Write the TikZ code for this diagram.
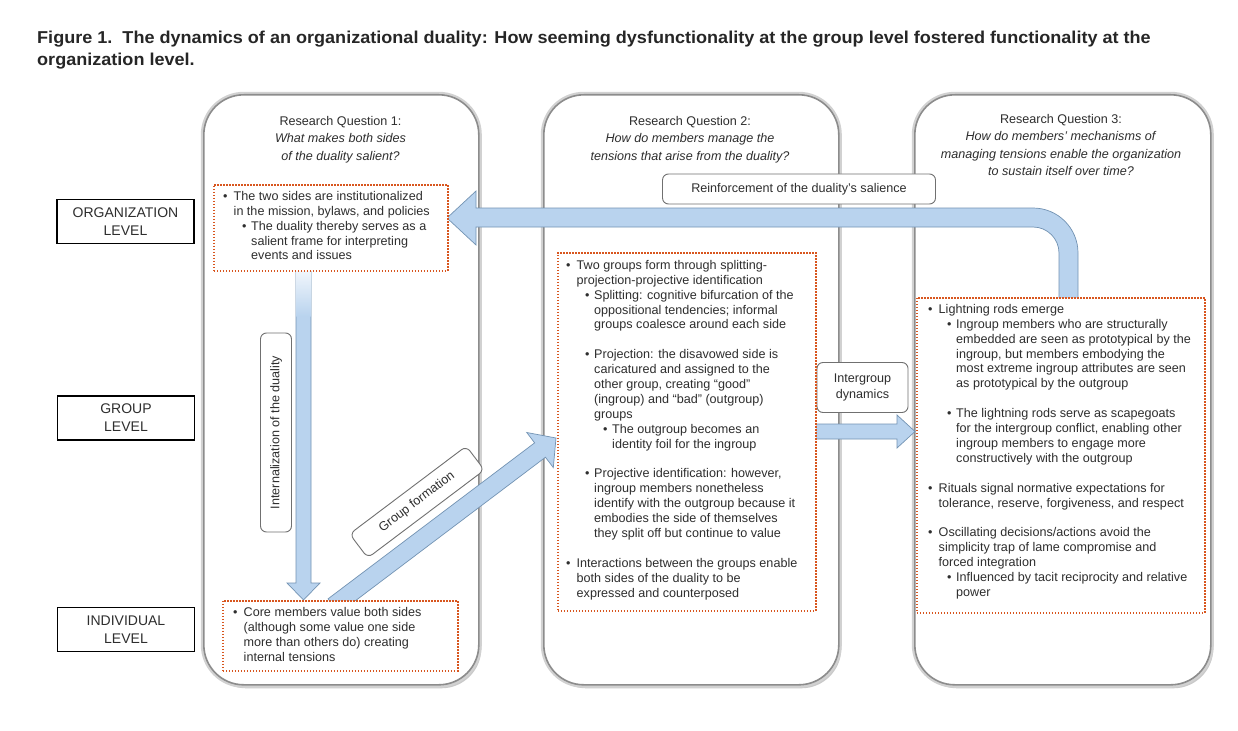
\documentclass[tikz,border=0pt]{standalone}
\usepackage{fontspec}
\setmainfont{Liberation Sans}
\newfontfamily\titlefont[FakeStretch=1.05]{Liberation Sans}
\usetikzlibrary{calc,shadows}
\definecolor{txt}{HTML}{2E2E2E}
\definecolor{dotc}{HTML}{D8561F}
\definecolor{arrfill}{HTML}{B9D3EE}
\definecolor{arrdraw}{HTML}{7393B3}
\definecolor{lblgray}{HTML}{707070}
\newcommand\BulA{\makebox[10.5pt][l]{\textbullet}}
\newcommand\ConA{\hspace*{10.5pt}}
\newcommand\BulB{\hspace*{19pt}\makebox[9pt][l]{\textbullet}}
\newcommand\ConB{\hspace*{28pt}}
\newcommand\BulC{\hspace*{37pt}\makebox[9pt][l]{\textbullet}}
\newcommand\ConC{\hspace*{46pt}}
\tikzset{
  panel/.style={rounded corners=40pt, fill=white, draw=black!45, line width=1.6pt,
    drop shadow={shadow xshift=2.5pt, shadow yshift=-3.5pt, opacity=0.35, fill=black!60},
    preaction={draw=black!18, line width=6pt}, inner sep=0, anchor=north west},
  dotbox/.style={draw=dotc, fill=white, line width=1.6pt, dash pattern=on 1.5pt off 1.5pt,
    inner sep=0, anchor=north west},
  body/.style={font=\fontsize{12.6}{14.9}\selectfont, text=txt, align=left, inner sep=0pt, anchor=north west},
  head/.style={font=\fontsize{12.6}{17.4}\selectfont, text=txt, align=center, inner sep=0pt, anchor=north},
  lvl/.style={draw=black, line width=1.1pt, minimum width=137pt, minimum height=44pt,
    font=\fontsize{14}{18}\selectfont, align=center, text=txt, inner sep=0},
  lbl/.style={draw=lblgray, line width=0.9pt, rounded corners=6pt, fill=white,
    font=\fontsize{12.6}{16}\selectfont, text=txt, align=center, inner sep=0},
  blockarrow/.style={fill=arrfill, draw=arrdraw, line width=0.7pt, line join=miter},
}
\begin{document}
\begin{tikzpicture}[x=1pt,y=-1pt]
\useasboundingbox[fill=white] (0,0) rectangle (1238,730);

% title
\node[anchor=north west, inner sep=0, align=left, text=black!85,
  font=\titlefont\bfseries\fontsize{17.2}{21.5}\selectfont] (title) at (37,31)
  {Figure 1.\ \ The dynamics of an organizational duality: How seeming dysfunctionality at the group level fostered functionality at the\\organization level.};

% level labels
\node[lvl] (org) at (125.5,221.5) {ORGANIZATION\\LEVEL};
\node[lvl] (grp) at (126,418) {GROUP\\LEVEL};
\node[lvl] (ind) at (126,629.5) {INDIVIDUAL\\LEVEL};

% panels
\node[panel, minimum width=275pt, minimum height=590pt] (p1) at (203,94) {};
\node[panel, minimum width=295pt, minimum height=590pt] (p2) at (543,94) {};
\node[panel, minimum width=296pt, minimum height=590pt] (p3) at (914,94) {};

% headers
\node[head] (h1) at (340.5,116) {Research Question 1:\\\textit{What makes both sides}\\\textit{of the duality salient?}};
\node[head] (h2) at (690,116) {Research Question 2:\\\textit{How do members manage the}\\\textit{tensions that arise from the duality?}};
\node[head] (h3) at (1061,114) {Research Question 3:\\\textit{How do members’ mechanisms of}\\\textit{managing tensions enable the organization}\\\textit{to sustain itself over time?}};

% reinforcement arrow
\draw[blockarrow] (1078,300) -- (1078,253) arc[start angle=0, end angle=-90, radius=45]
  -- (476,208) -- (476,191) -- (447,218) -- (476,245) -- (476,227) -- (1033,227)
  arc[start angle=-90, end angle=0, radius=26] -- (1059,300) -- cycle;

% internalization arrow
\coordinate (iS) at (303.5,266);
\coordinate (iT) at (303.5,600);
\draw[blockarrow] ($(iS)+(-7.5,0)$) -- ($(iT)+(-7.5,-17)$) -- ($(iT)+(-16.5,-17)$) -- (iT)
  -- ($(iT)+(16.5,-17)$) -- ($(iT)+(7.5,-17)$) -- ($(iS)+(7.5,0)$) -- cycle;
\shade[top color=white!85!arrfill, bottom color=arrfill] ($(iS)+(-7.1,2)$) rectangle ($(iS)+(7.1,50)$);

% group formation arrow
\coordinate (gT) at (556,438);
\coordinate (gS) at (333.5,606);
\coordinate (gH) at ($(gT)!20pt!(gS)$);
\draw[blockarrow] ($(gS)!9pt!90:(gT)$) -- ($(gH)!9pt!90:(gT)$) -- ($(gH)!22pt!90:(gT)$) -- (gT)
  -- ($(gH)!22pt!-90:(gT)$) -- ($(gH)!9pt!-90:(gT)$) -- ($(gS)!9pt!-90:(gT)$) -- cycle;

% intergroup arrow
\coordinate (nS) at (812,431.5);
\coordinate (nT) at (915,431.5);
\draw[blockarrow] ($(nS)+(0,-7.5)$) -- ($(nT)+(-18,-7.5)$) -- ($(nT)+(-18,-16.5)$) -- (nT)
  -- ($(nT)+(-18,16.5)$) -- ($(nT)+(-18,7.5)$) -- ($(nS)+(0,7.5)$) -- cycle;

% connector labels
\node[lbl, minimum width=273pt, minimum height=30pt] (lr) at (799,189) {Reinforcement of the duality’s salience};
\node[lbl, minimum width=91pt, minimum height=50pt] (li) at (862.5,387.5) {Intergroup\\dynamics};
\node[lbl, minimum width=199pt, minimum height=31pt, rotate=90] (lint) at (276,432.5) {Internalization of the duality};
\node[lbl, minimum width=146pt, minimum height=30pt, rotate=37] (lg) at (417,502) {Group formation};

% dotted boxes
\node[dotbox, minimum width=234pt, minimum height=86pt] (d1) at (213,184) {};
\node[dotbox, minimum width=235pt, minimum height=70pt] (d2) at (222,600) {};
\node[dotbox, minimum width=258pt, minimum height=358pt] (d3) at (557,252) {};
\node[dotbox, minimum width=288pt, minimum height=315pt] (d4) at (916,297) {};

% texts
\node[body] (t1) at (223,191) {\BulA The two sides are institutionalized\\
\ConA in the mission, bylaws, and policies\\
\BulB The duality thereby serves as a\\
\ConB salient frame for interpreting\\
\ConB events and issues};

\node[body] (t2) at (233,607) {\BulA Core members value both sides\\
\ConA (although some value one side\\
\ConA more than others do) creating\\
\ConA internal tensions};

\node[body] (t3) at (566,260) {\BulA Two groups form through splitting-\\
\ConA projection-projective identification\\
\BulB Splitting: cognitive bifurcation of the\\
\ConB oppositional tendencies; informal\\
\ConB groups coalesce around each side\\[14.9pt]
\BulB Projection: the disavowed side is\\
\ConB caricatured and assigned to the\\
\ConB other group, creating “good”\\
\ConB (ingroup) and “bad” (outgroup)\\
\ConB groups\\
\BulC The outgroup becomes an\\
\ConC identity foil for the ingroup\\[14.9pt]
\BulB Projective identification: however,\\
\ConB ingroup members nonetheless\\
\ConB identify with the outgroup because it\\
\ConB embodies the side of themselves\\
\ConB they split off but continue to value\\[14.9pt]
\BulA Interactions between the groups enable\\
\ConA both sides of the duality to be\\
\ConA expressed and counterposed};

\node[body] (t4) at (928,304) {\BulA Lightning rods emerge\\
\BulB Ingroup members who are structurally\\
\ConB embedded are seen as prototypical by the\\
\ConB ingroup, but members embodying the\\
\ConB most extreme ingroup attributes are seen\\
\ConB as prototypical by the outgroup\\[14.9pt]
\BulB The lightning rods serve as scapegoats\\
\ConB for the intergroup conflict, enabling other\\
\ConB ingroup members to engage more\\
\ConB constructively with the outgroup\\[14.9pt]
\BulA Rituals signal normative expectations for\\
\ConA tolerance, reserve, forgiveness, and respect\\[14.9pt]
\BulA Oscillating decisions/actions avoid the\\
\ConA simplicity trap of lame compromise and\\
\ConA forced integration\\
\BulB Influenced by tacit reciprocity and relative\\
\ConB power};
\end{tikzpicture}
\end{document}
